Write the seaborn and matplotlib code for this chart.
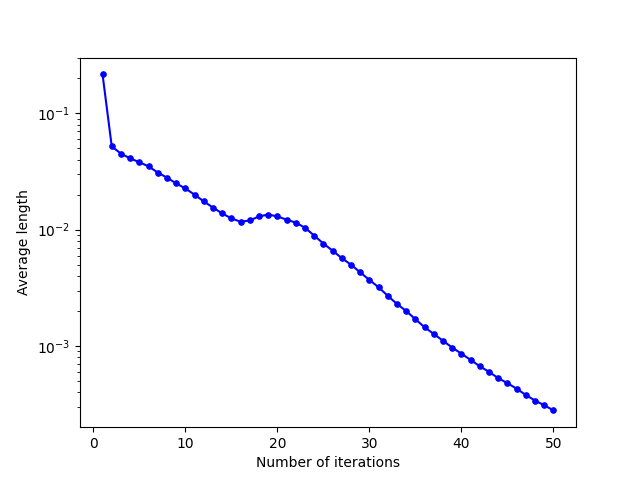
import numpy as np
import pandas as pd
import matplotlib
matplotlib.use("Agg")
import matplotlib.pyplot as plt
import seaborn as sns

# --- Data ---
iterations = list(range(1, 51))
avg_length = [
    0.216, 0.052, 0.045, 0.041, 0.038, 0.035, 0.031, 0.028, 0.025, 0.0226,
    0.020, 0.0175, 0.0155, 0.0138, 0.0125, 0.0117, 0.0120, 0.0130, 0.0135, 0.0130,
    0.0122, 0.0115, 0.0104, 0.0089, 0.0076, 0.0066, 0.0057, 0.0050, 0.0043, 0.0037,
    0.0032, 0.0027, 0.0023, 0.0020, 0.0017, 0.00145, 0.00127, 0.00111, 0.00097, 0.00086,
    0.00076, 0.00067, 0.00060, 0.00053, 0.00048, 0.00043, 0.00038, 0.00034, 0.00031, 0.00028,
]

df = pd.DataFrame({"iter": iterations, "length": avg_length})

fig, ax = plt.subplots(figsize=(6.4, 4.8), dpi=100)
sns.lineplot(data=df, x="iter", y="length", ax=ax, color="blue",
             marker="o", markersize=4, markeredgecolor="blue")
ax.set_yscale("log")
ax.set_xlabel("Number of iterations")
ax.set_ylabel("Average length")
fig.savefig("out.png", dpi=100)
